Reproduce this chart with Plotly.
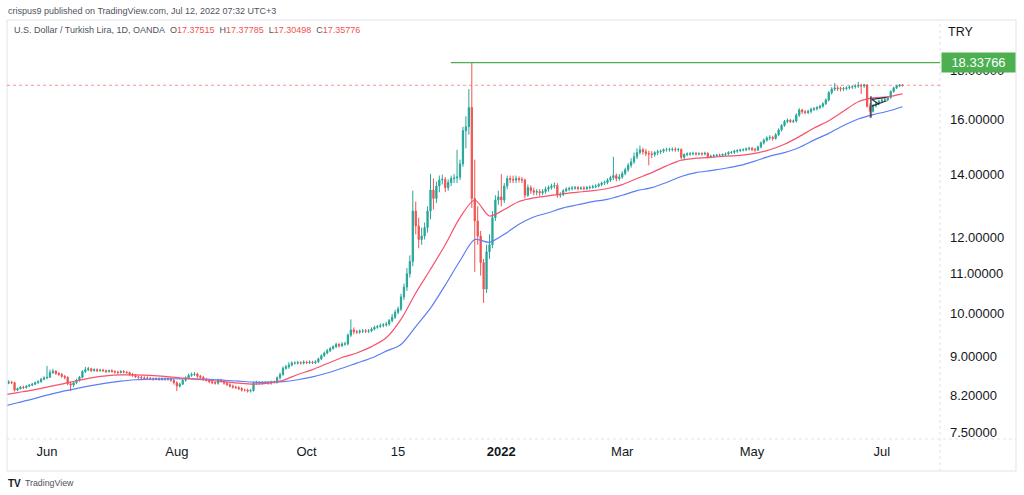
import numpy as np
import pandas as pd
import plotly.graph_objects as go

# ---------------- data ----------------
session_start = "2021-05-10"
session_end = "2022-07-12"
first_open = 8.33

close = [
    8.36, 8.40, 8.44, 8.46, 8.45,
    8.30, 8.33, 8.36, 8.35, 8.38,
    8.40, 8.42, 8.45, 8.47, 8.52,
    8.55, 8.56, 8.66, 8.69, 8.64,
    8.62, 8.58, 8.56, 8.43, 8.40,
    8.45, 8.50, 8.56, 8.68, 8.72,
    8.74, 8.70, 8.72, 8.70, 8.71,
    8.70, 8.68, 8.70, 8.68, 8.67,
    8.66, 8.68, 8.67, 8.66, 8.62,
    8.60, 8.57, 8.56, 8.55, 8.54,
    8.54, 8.53, 8.52, 8.53, 8.52,
    8.53, 8.52, 8.53, 8.50, 8.45,
    8.38, 8.42, 8.50, 8.55, 8.60,
    8.62, 8.63, 8.58, 8.56, 8.52,
    8.50, 8.47, 8.45, 8.44, 8.50,
    8.48, 8.44, 8.41, 8.38, 8.36,
    8.35, 8.33, 8.30, 8.30, 8.28,
    8.29, 8.44, 8.45, 8.44, 8.45,
    8.45, 8.44, 8.46, 8.46, 8.55,
    8.62, 8.75, 8.78, 8.82, 8.86,
    8.86, 8.87, 8.86, 8.88, 8.87,
    8.88, 8.87, 8.89, 8.95, 9.02,
    9.08, 9.13, 9.18, 9.22, 9.27,
    9.24, 9.28, 9.28, 9.48, 9.60,
    9.56, 9.55, 9.57, 9.58, 9.57,
    9.58, 9.62, 9.66, 9.68, 9.70,
    9.72, 9.74, 9.82, 9.90, 10.02,
    10.10, 10.40, 10.65, 11.00, 11.33,
    12.80, 12.35, 11.95, 12.05, 12.30,
    12.80, 13.47, 13.20, 13.60, 13.80,
    13.82, 13.55, 13.72, 13.85, 13.87,
    13.90, 14.35, 15.55, 15.70, 16.45,
    13.20, 12.50, 12.05, 11.30, 10.60,
    11.60, 11.80, 12.60, 13.15, 13.25,
    13.15, 13.60, 13.85, 13.82, 13.80,
    13.85, 13.82, 13.80, 13.30, 13.55,
    13.45, 13.40, 13.42, 13.38, 13.42,
    13.50, 13.55, 13.60, 13.62, 13.30,
    13.32, 13.45, 13.50, 13.52, 13.53,
    13.55, 13.52, 13.54, 13.52, 13.55,
    13.56, 13.58, 13.60, 13.65, 13.70,
    13.72, 13.80, 13.88, 13.95, 13.85,
    13.90, 14.02, 14.15, 14.30, 14.42,
    14.60, 14.75, 14.85, 14.78, 14.72,
    14.70, 14.68, 14.75, 14.78, 14.80,
    14.85, 14.85, 14.86, 14.87, 14.85,
    14.86, 14.58, 14.68, 14.70, 14.70,
    14.72, 14.70, 14.71, 14.70, 14.72,
    14.60, 14.62, 14.64, 14.66, 14.65,
    14.68, 14.70, 14.75, 14.76, 14.80,
    14.82, 14.84, 14.85, 14.88, 14.90,
    14.86, 14.84, 14.95, 15.10, 15.20,
    15.28, 15.30, 15.26, 15.40, 15.58,
    15.75, 15.90, 15.95, 15.90, 15.92,
    16.15, 16.35, 16.28, 16.25, 16.30,
    16.38, 16.40, 16.45, 16.50, 16.60,
    16.75, 17.05, 17.20, 17.25, 17.22,
    17.20, 17.22, 17.25, 17.28, 17.30,
    17.32, 17.35, 17.33, 17.37, 16.50,
    16.30, 16.52, 16.60, 16.70, 16.75,
    16.76, 16.85, 17.10, 17.25, 17.33,
    17.37515, 17.35776,
]

high = [
    8.39, 8.43, 8.47, 8.50, 8.49,
    8.47, 8.35, 8.38, 8.39, 8.40,
    8.42, 8.44, 8.47, 8.50, 8.55,
    8.58, 8.80, 8.72, 8.74, 8.71,
    8.67, 8.65, 8.61, 8.58, 8.47,
    8.48, 8.53, 8.59, 8.71, 8.78,
    8.78, 8.76, 8.75, 8.75, 8.74,
    8.74, 8.72, 8.72, 8.73, 8.71,
    8.70, 8.71, 8.71, 8.69, 8.68,
    8.65, 8.63, 8.60, 8.59, 8.58,
    8.58, 8.57, 8.56, 8.56, 8.56,
    8.56, 8.56, 8.56, 8.56, 8.53,
    8.48, 8.45, 8.53, 8.58, 8.64,
    8.66, 8.67, 8.66, 8.61, 8.59,
    8.55, 8.53, 8.50, 8.48, 8.53,
    8.53, 8.51, 8.47, 8.44, 8.41,
    8.39, 8.38, 8.36, 8.33, 8.33,
    8.32, 8.47, 8.49, 8.48, 8.48,
    8.48, 8.48, 8.49, 8.49, 8.58,
    8.66, 8.79, 8.82, 8.88, 8.90,
    8.90, 8.91, 8.90, 8.92, 8.91,
    8.92, 8.91, 8.92, 8.98, 9.05,
    9.11, 9.17, 9.21, 9.25, 9.31,
    9.30, 9.32, 9.33, 9.52, 9.85,
    9.66, 9.60, 9.61, 9.62, 9.62,
    9.62, 9.66, 9.70, 9.72, 9.75,
    9.76, 9.79, 9.86, 9.98, 10.08,
    10.16, 10.48, 10.74, 11.15, 11.50,
    13.45, 13.10, 12.60, 12.30, 12.45,
    12.95, 14.00, 13.85, 13.75, 13.95,
    13.98, 13.90, 13.82, 13.95, 14.00,
    14.85, 14.50, 15.70, 16.10, 17.20,
    18.34, 14.50, 12.95, 12.20, 11.40,
    11.80, 12.10, 12.80, 13.30, 13.45,
    14.00, 13.70, 13.95, 13.95, 13.95,
    13.95, 13.92, 13.90, 13.85, 13.65,
    13.62, 13.55, 13.50, 13.50, 13.50,
    13.58, 13.62, 13.68, 13.72, 13.70,
    13.40, 13.50, 13.56, 13.58, 13.60,
    13.60, 13.60, 13.59, 13.60, 13.60,
    13.62, 13.64, 13.66, 13.70, 13.75,
    13.78, 13.86, 13.94, 14.60, 14.02,
    14.00, 14.10, 14.22, 14.38, 14.55,
    14.75, 14.90, 15.00, 14.92, 14.88,
    14.82, 14.80, 14.80, 14.85, 14.86,
    14.90, 14.92, 14.92, 14.93, 14.94,
    14.92, 14.90, 14.72, 14.76, 14.77,
    14.78, 14.77, 14.76, 14.76, 14.78,
    14.76, 14.67, 14.69, 14.70, 14.71,
    14.72, 14.75, 14.80, 14.81, 14.85,
    14.87, 14.89, 14.90, 14.93, 14.96,
    14.95, 14.92, 15.00, 15.15, 15.26,
    15.34, 15.38, 15.36, 15.46, 15.64,
    15.80, 15.96, 16.02, 16.00, 15.98,
    16.22, 16.42, 16.40, 16.35, 16.36,
    16.44, 16.46, 16.50, 16.56, 16.66,
    16.82, 17.12, 17.28, 17.45, 17.32,
    17.30, 17.29, 17.32, 17.35, 17.36,
    17.40, 17.50, 17.42, 17.42, 17.40,
    16.62, 16.58, 16.68, 16.76, 16.82,
    16.82, 16.92, 17.15, 17.30, 17.38,
    17.40, 17.37785,
]

low = [
    8.31, 8.34, 8.38, 8.42, 8.42,
    8.27, 8.28, 8.31, 8.32, 8.33,
    8.36, 8.38, 8.40, 8.43, 8.45,
    8.50, 8.52, 8.55, 8.63, 8.61,
    8.59, 8.55, 8.52, 8.40, 8.28,
    8.36, 8.42, 8.47, 8.54, 8.65,
    8.69, 8.67, 8.68, 8.67, 8.68,
    8.67, 8.65, 8.66, 8.66, 8.64,
    8.63, 8.64, 8.64, 8.63, 8.59,
    8.57, 8.55, 8.53, 8.52, 8.51,
    8.51, 8.50, 8.49, 8.50, 8.49,
    8.49, 8.49, 8.49, 8.47, 8.41,
    8.28, 8.35, 8.40, 8.47, 8.52,
    8.57, 8.59, 8.55, 8.53, 8.49,
    8.47, 8.44, 8.42, 8.41, 8.41,
    8.45, 8.41, 8.38, 8.35, 8.33,
    8.32, 8.30, 8.27, 8.27, 8.25,
    8.25, 8.27, 8.41, 8.41, 8.41,
    8.42, 8.41, 8.41, 8.43, 8.43,
    8.52, 8.59, 8.72, 8.74, 8.79,
    8.83, 8.83, 8.83, 8.83, 8.84,
    8.84, 8.84, 8.84, 8.86, 8.92,
    8.99, 9.05, 9.10, 9.15, 9.19,
    9.20, 9.21, 9.24, 9.25, 9.44,
    9.50, 9.51, 9.51, 9.53, 9.53,
    9.53, 9.55, 9.59, 9.63, 9.65,
    9.66, 9.68, 9.70, 9.78, 9.86,
    9.97, 10.05, 10.32, 10.55, 10.90,
    11.20, 12.10, 11.70, 11.80, 11.95,
    12.15, 12.55, 12.85, 13.05, 13.40,
    13.65, 13.40, 13.45, 13.60, 13.70,
    13.70, 13.80, 14.25, 14.90, 15.40,
    12.90, 11.05, 11.80, 10.95, 10.25,
    10.50, 11.40, 11.70, 12.50, 13.00,
    12.95, 13.05, 13.50, 13.70, 13.70,
    13.70, 13.72, 13.70, 13.20, 13.25,
    13.35, 13.30, 13.30, 13.28, 13.30,
    13.35, 13.42, 13.48, 13.52, 13.22,
    13.22, 13.28, 13.40, 13.44, 13.46,
    13.48, 13.46, 13.47, 13.46, 13.47,
    13.49, 13.51, 13.53, 13.55, 13.60,
    13.64, 13.66, 13.74, 13.80, 13.76,
    13.78, 13.84, 13.96, 14.08, 14.22,
    14.35, 14.52, 14.68, 14.68, 14.62,
    14.30, 14.55, 14.60, 14.66, 14.70,
    14.74, 14.78, 14.78, 14.79, 14.78,
    14.78, 14.52, 14.52, 14.62, 14.64,
    14.65, 14.64, 14.65, 14.64, 14.65,
    14.55, 14.55, 14.57, 14.59, 14.60,
    14.60, 14.62, 14.65, 14.70, 14.70,
    14.74, 14.77, 14.79, 14.80, 14.82,
    14.80, 14.78, 14.80, 14.90, 15.04,
    15.14, 15.20, 15.18, 15.22, 15.35,
    15.52, 15.70, 15.84, 15.84, 15.84,
    15.86, 16.08, 16.20, 16.18, 16.19,
    16.22, 16.31, 16.33, 16.38, 16.44,
    16.55, 16.70, 16.98, 17.12, 17.12,
    17.10, 17.12, 17.15, 17.18, 17.20,
    17.22, 17.25, 17.00, 17.25, 16.45,
    16.05, 16.25, 16.45, 16.54, 16.64,
    16.68, 16.70, 16.80, 17.05, 17.20,
    17.28, 17.30498,
]

# moving averages read every 5th session (starting with the 2nd session)
ma_fast = [
    8.20, 8.25, 8.30, 8.36, 8.42, 8.49, 8.55, 8.59, 8.61, 8.61,
    8.60, 8.58, 8.55, 8.52, 8.50, 8.47, 8.44, 8.42, 8.44, 8.50,
    8.62, 8.72, 8.85, 8.98, 9.08, 9.22, 9.42, 9.85, 10.50, 11.12,
    11.80, 12.60, 13.15, 12.65, 12.85, 13.10, 13.22, 13.28, 13.35, 13.40,
    13.45, 13.52, 13.65, 13.85, 14.05, 14.28, 14.48, 14.55, 14.58, 14.62,
    14.65, 14.72, 14.85, 15.05, 15.33, 15.65, 15.93, 16.30, 16.68, 16.84,
    16.88, 17.00,
]
ma_slow = [
    7.98, 8.05, 8.12, 8.20, 8.27, 8.33, 8.39, 8.44, 8.48, 8.51,
    8.52, 8.53, 8.53, 8.53, 8.52, 8.50, 8.48, 8.46, 8.46, 8.47,
    8.51, 8.57, 8.65, 8.75, 8.86, 8.97, 9.12, 9.27, 9.68, 10.12,
    10.70, 11.35, 11.95, 11.87, 12.10, 12.40, 12.62, 12.75, 12.90, 13.00,
    13.10, 13.17, 13.30, 13.45, 13.55, 13.72, 13.92, 14.05, 14.12, 14.20,
    14.30, 14.45, 14.62, 14.75, 14.93, 15.20, 15.45, 15.75, 16.00, 16.17,
    16.30, 16.48,
]

tick_dates = ["2021-06-01", "2021-08-02", "2021-10-01", "2021-11-15",
              "2022-01-03", "2022-03-01", "2022-05-02", "2022-07-01"]
tick_labels = ["Jun", "Aug", "Oct", "15", "<b>2022</b>", "Mar", "May", "Jul"]
price_ticks = [7.5, 8.2, 9.0, 10.0, 11.0, 12.0, 14.0, 16.0, 18.0]

resistance_level = 18.33766
resistance_from = "2021-12-09"
last_ohlc = [17.37515, 17.37785, 17.30498, 17.35776]

# hand-drawn pennant (session offset from 2022-06-27, price)
pennant_segments = [
    [(0.3, 16.90), (0.3, 16.05)],
    [(0.6, 16.78), (5.6, 16.86)],
    [(0.6, 16.50), (5.6, 16.72)],
    [(0.6, 16.78), (3.0, 16.58)],
]
pennant_anchor = "2022-06-27"

# ---------------- build ----------------
dates = pd.bdate_range(session_start, session_end)
pos = np.arange(len(dates))
opens = [first_open] + close[:-1]
ma_x = pos[1::5]

def loc(d):
    return dates.get_loc(pd.Timestamp(d))

tick_pos = [loc(d) for d in tick_dates]

# axis geometry (pixels of the 1024x495 page)
PL, PR, PT, PB = 7, 940, 20, 439
jun_pos = loc("2021-06-01")
px_per_bar = 2.95
x_left = jun_pos + (PL - 47) / px_per_bar
x_right = jun_pos + (PR - 47) / px_per_bar
y_lo, y_hi = 7.373, 20.33

def px_x(px):
    return (px - PL) / (PR - PL)

def px_y(py):
    return (PB - py) / (PB - PT)

UP, DN = "#26a69a", "#ef5350"
RED_MA, BLUE_MA = "#f7526e", "#5b7ef7"
TXT = "#131722"
FONT = "Liberation Sans, Arial, sans-serif"

fig = go.Figure()
fig.add_trace(go.Candlestick(
    x=pos, open=opens, high=high, low=low, close=close,
    increasing=dict(line=dict(color=UP, width=1), fillcolor=UP),
    decreasing=dict(line=dict(color=DN, width=1), fillcolor=DN),
    whiskerwidth=0, showlegend=False, hoverinfo="skip"))
fig.add_trace(go.Scatter(x=ma_x, y=ma_slow, mode="lines",
                         line=dict(color=BLUE_MA, width=1.2, shape="spline", smoothing=0.8),
                         showlegend=False, hoverinfo="skip"))
fig.add_trace(go.Scatter(x=ma_x, y=ma_fast, mode="lines",
                         line=dict(color=RED_MA, width=1.2, shape="spline", smoothing=0.8),
                         showlegend=False, hoverinfo="skip"))

shapes = []
frame_col = "#e0e3eb"
shapes.append(dict(type="rect", xref="paper", yref="paper", x0=px_x(PL), x1=px_x(1016),
                   y0=px_y(471), y1=px_y(PT), line=dict(color=frame_col, width=1)))
shapes.append(dict(type="line", xref="paper", yref="paper", x0=1, x1=1,
                   y0=px_y(471), y1=px_y(PT), line=dict(color=frame_col, width=1, dash="dot")))
shapes.append(dict(type="line", xref="paper", yref="paper", x0=0, x1=px_x(1016),
                   y0=0, y1=0, line=dict(color=frame_col, width=1, dash="dot")))
# last price dotted line
shapes.append(dict(type="line", xref="paper", yref="y", x0=0, x1=1,
                   y0=last_ohlc[3], y1=last_ohlc[3],
                   line=dict(color="rgba(239,83,80,0.6)", width=1, dash="dot")))
# resistance ray
shapes.append(dict(type="line", xref="x", yref="y", x0=loc(resistance_from) - 0.1, x1=x_right,
                   y0=resistance_level, y1=resistance_level,
                   line=dict(color="#4caf50", width=1.3)))
# pennant drawing
pa = loc(pennant_anchor)
for (a, b) in pennant_segments:
    shapes.append(dict(type="line", xref="x", yref="y", x0=pa + a[0], x1=pa + b[0],
                       y0=a[1], y1=b[1], line=dict(color="#2a2e39", width=1.3)))

red = "#ef5350"
o, h, l, c = last_ohlc
nb = "\u00a0"
header = (f"U.S. Dollar / Turkish Lira, 1D, OANDA{nb}{nb}O<span style='color:{red}'>{o:.5f}</span>"
          f"{nb}{nb}H<span style='color:{red}'>{h:.5f}</span>"
          f"{nb}{nb}L<span style='color:{red}'>{l:.5f}</span>"
          f"{nb}{nb}C<span style='color:{red}'>{c:.5f}</span>")

annotations = [
    dict(text="crispus9 published on TradingView.com, Jul 12, 2022 07:32 UTC+3",
         xref="paper", yref="paper", x=px_x(6), y=px_y(11), xanchor="left", yanchor="middle",
         showarrow=False, font=dict(size=9, color="#50535e", family=FONT)),
    dict(text=header, xref="paper", yref="paper", x=px_x(12), y=px_y(30),
         xanchor="left", yanchor="middle", showarrow=False,
         font=dict(size=9, color="#50535e", family=FONT)),
    dict(text="TRY", xref="paper", yref="paper", x=px_x(946), y=px_y(32),
         xanchor="left", yanchor="middle", showarrow=False,
         font=dict(size=12.5, color=TXT, family=FONT)),
    dict(text=f"{resistance_level:.5f}", xref="paper", yref="y", x=px_x(941),
         y=np.log10(resistance_level), xanchor="left", yanchor="middle", showarrow=False,
         bgcolor="#4caf50", width=67, height=13, borderpad=3, align="center",
         font=dict(size=13, color="white", family=FONT)),
    dict(text="<b>TV</b>", xref="paper", yref="paper", x=px_x(6), y=px_y(483),
         xanchor="left", yanchor="middle", showarrow=False,
         font=dict(size=10, color=TXT, family=FONT)),
    dict(text="TradingView", xref="paper", yref="paper", x=px_x(23), y=px_y(483),
         xanchor="left", yanchor="middle", showarrow=False,
         font=dict(size=8.8, color="#50535e", family=FONT)),
]

fig.update_layout(
    width=1024, height=495,
    margin=dict(l=PL, r=1024 - PR, t=PT, b=495 - PB, pad=0),
    paper_bgcolor="white", plot_bgcolor="white",
    font=dict(family=FONT, color=TXT),
    boxgap=0.4,
    shapes=shapes, annotations=annotations,
    dragmode=False,
    xaxis=dict(range=[x_left, x_right], tickvals=tick_pos, ticktext=tick_labels,
               showgrid=False, zeroline=False, showline=False, ticks="",
               tickfont=dict(size=13, color=TXT), ticklabelstandoff=3,
               rangeslider=dict(visible=False), fixedrange=True),
    yaxis=dict(type="log", side="right", range=[np.log10(y_lo), np.log10(y_hi)],
               tickvals=price_ticks, ticktext=[f"{v:.5f}" for v in price_ticks],
               showgrid=False, zeroline=False, showline=False, ticks="",
               tickfont=dict(size=13, color=TXT), ticklabelstandoff=9, fixedrange=True),
)

fig.write_html("out.html", config={"displayModeBar": False},
               post_script="document.body.style.margin='0';document.body.style.overflow='hidden';")
